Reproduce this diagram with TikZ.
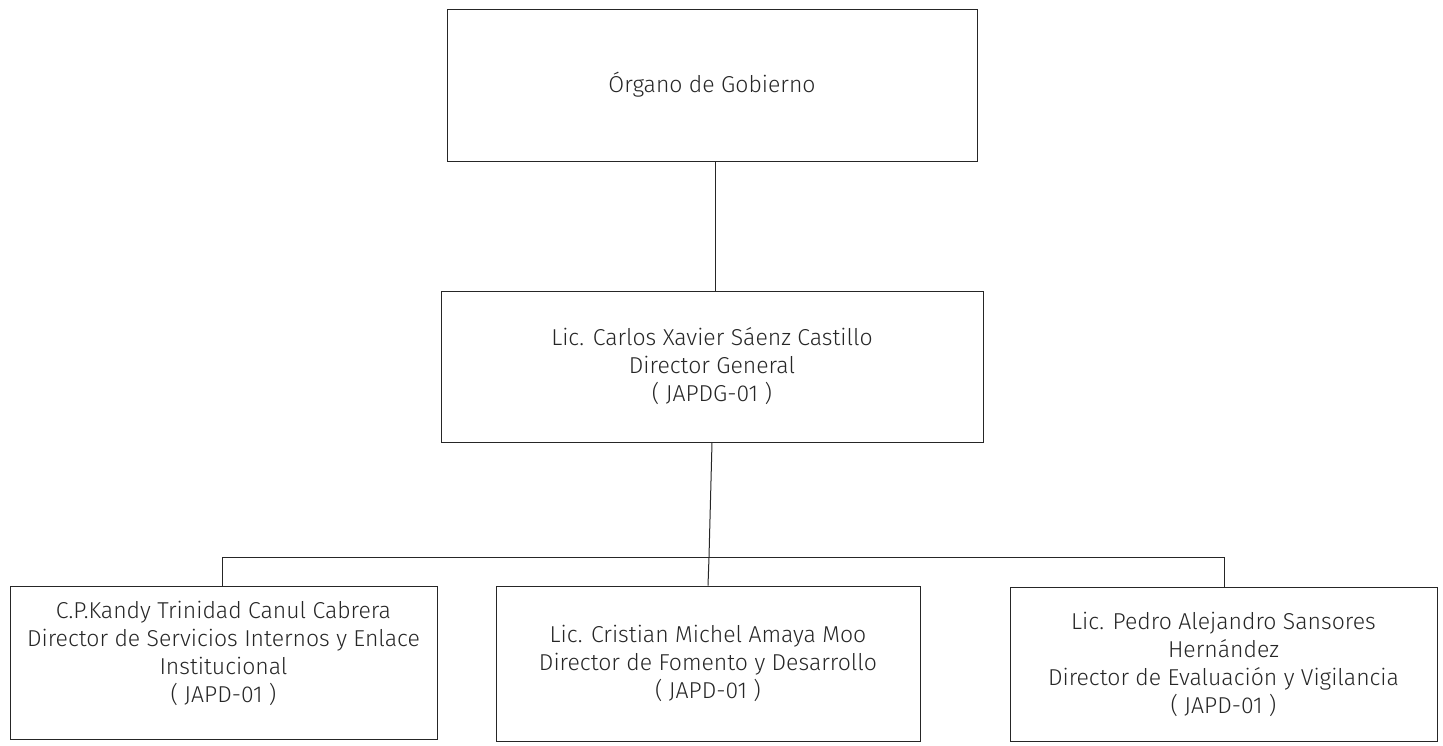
\documentclass[tikz,border=0pt]{standalone}
\usepackage{fontspec}
\setmainfont{Fira Sans Light}
\begin{document}
\begin{tikzpicture}[x=1pt,y=-1pt,
  orgtext/.style={align=center, inner sep=0pt,
    font=\fontsize{23}{28}\selectfont, text=black!85},
  orgbox/.style={orgtext, draw=black!85, line width=1pt},
  conn/.style={draw=black!85, line width=1pt}]
\useasboundingbox (0,0) rectangle (1443,745);
\node[orgbox, minimum width=530, minimum height=152] (gob) at (712,85) {Órgano de Gobierno};
\node[orgbox, minimum width=542, minimum height=151] (dg) at (712,366.5)
  {Lic. Carlos Xavier Sáenz Castillo\\Director General\\( JAPDG-01 )};
\node[orgbox, minimum width=427, minimum height=153] (dsi) at (223.5,662.5) {};
\node[orgtext, anchor=center] (dsitext) at ([yshift=9pt]dsi.center)
  {C.P.Kandy Trinidad Canul Cabrera\\Director de Servicios Internos y Enlace\\Institucional\\( JAPD-01 )};
\node[orgbox, minimum width=424, minimum height=155] (dfd) at (708,663.5)
  {Lic. Cristian Michel Amaya Moo\\Director de Fomento y Desarrollo\\( JAPD-01 )};
\node[orgbox, minimum width=427, minimum height=154] (dev) at (1223.5,664)
  {Lic. Pedro Alejandro Sansores\\Hernández\\Director de Evaluación y Vigilancia\\( JAPD-01 )};
\coordinate (busL) at (222,557);
\coordinate (busR) at (1224,557);
\coordinate (busM) at (709,557);
\draw[conn] ([xshift=3pt]gob.south) -- ([xshift=3pt]dg.north);
\draw[conn] (dg.south) -- (busM) -- (dfd.north);
\draw[conn] (dsi.north -| busL) -- (busL) -- (busR) -- (dev.north -| busR);
\end{tikzpicture}
\end{document}
